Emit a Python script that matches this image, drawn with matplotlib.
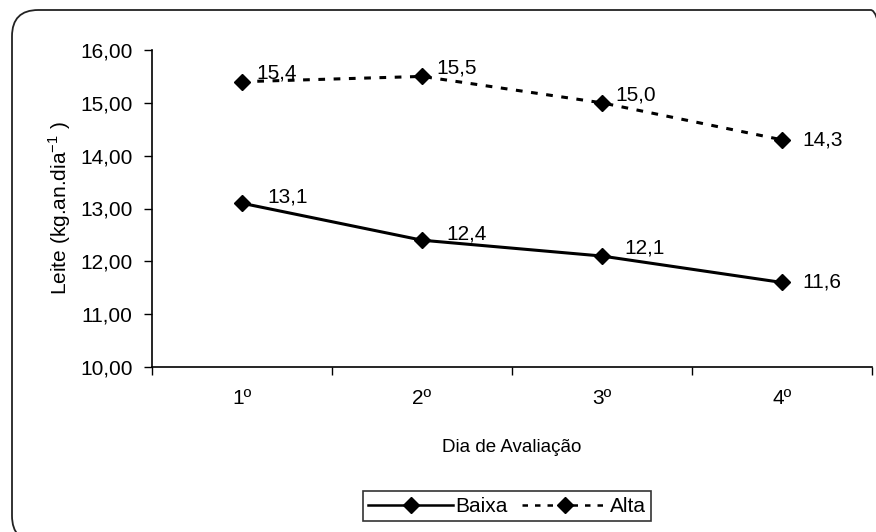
import matplotlib.pyplot as plt
from matplotlib.patches import FancyBboxPatch
from matplotlib.lines import Line2D

plt.rcParams['font.family'] = ['Liberation Sans', 'DejaVu Sans']

dias = ['1º', '2º', '3º', '4º']
baixa = [13.1, 12.4, 12.1, 11.6]
alta = [15.4, 15.5, 15.0, 14.3]
rotulos_baixa = ['13,1', '12,4', '12,1', '11,6']
rotulos_alta = ['15,4', '15,5', '15,0', '14,3']
yticks = [10, 11, 12, 13, 14, 15, 16]

W, H = 876, 532
fig = plt.figure(figsize=(W / 100, H / 100), dpi=100)

# moldura arredondada (canto direito e base saem da imagem)
moldura = FancyBboxPatch((12 / W, -10 / H), 885 / W, (H - 10 + 10) / H,
                         boxstyle='round,pad=0,rounding_size=0.03',
                         transform=fig.transFigure, fill=False, edgecolor='#222222',
                         linewidth=1.3, mutation_aspect=W / H)
fig.patches.append(moldura)

ax = fig.add_axes([152 / W, 1 - 367 / H, 720 / W, 317 / H])
x = range(len(dias))
tracejado = (0, (2.2, 2.8))

ax.plot(x, baixa, color='black', linewidth=2.2, marker='D', markersize=8, label='Baixa')
ax.plot(x, alta, color='black', linewidth=2.2, linestyle=tracejado, marker='D', markersize=8,
        label='Alta')

# deslocamento dos rótulos em pixels (dx, dy, alinhamento vertical)
desl_baixa = [(25, 1, 'baseline'), (24, 1, 'baseline'), (22, 3, 'baseline'), (20, 0, 'center')]
desl_alta = [(14, 3, 'baseline'), (14, 3, 'baseline'), (13, 2, 'baseline'), (20, 0, 'center')]
for i in x:
    for val, txt, (dx, dy, va) in ((baixa[i], rotulos_baixa[i], desl_baixa[i]),
                                   (alta[i], rotulos_alta[i], desl_alta[i])):
        ax.annotate(txt, (i, val), xytext=(dx * 0.72, dy * 0.72), textcoords='offset points',
                    ha='left', va=va, fontsize=15)

ax.set_xlim(-0.5, 3.5)
ax.set_ylim(10, 16)
ax.set_yticks(yticks)
ax.set_yticklabels([f'{v},00' for v in yticks], fontsize=15)
ax.set_xticks(list(x))
ax.set_xticklabels(dias, fontsize=15)
ax.tick_params(axis='x', length=0, pad=16)
ax.set_xticks([-0.5, 0.5, 1.5, 2.5, 3.5], minor=True)
ax.tick_params(axis='x', which='minor', length=6, direction='out', width=1)
ax.tick_params(axis='y', length=6, direction='out', pad=8, width=1)
for s in ('top', 'right'):
    ax.spines[s].set_visible(False)
for s in ('left', 'bottom'):
    ax.spines[s].set_linewidth(1.2)
ax.set_xlabel('Dia de Avaliação', fontsize=13.5, labelpad=22)
ax.set_ylabel('Leite (kg.an.dia$^{\\mathregular{-1}}$ )', fontsize=15, labelpad=5)

handles = [Line2D([], [], color='black', linewidth=1.8, marker='D', markersize=8),
           Line2D([], [], color='black', linewidth=1.8, linestyle=tracejado, marker='D',
                  markersize=8)]
leg = fig.legend(handles, ['Baixa', 'Alta'], loc='center', bbox_to_anchor=(507 / W, 1 - 506 / H),
                 ncol=2, fontsize=15, frameon=True, fancybox=False, handlelength=4.1,
                 handletextpad=0.1, columnspacing=0.7, borderpad=0.25, borderaxespad=0,
                 handleheight=0.6)
leg.get_frame().set_edgecolor('black')
leg.get_frame().set_linewidth(1.2)

fig.savefig('out.png', dpi=100)
